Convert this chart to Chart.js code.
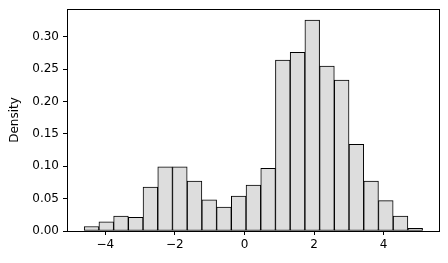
<!DOCTYPE html>
<html>
<head>
<meta charset="utf-8">
<script src="https://cdn.jsdelivr.net/npm/chart.js@4/dist/chart.umd.min.js"></script>
<style>
  html, body { margin: 0; padding: 0; background: #fff; }
  #wrap { width: 448px; height: 263px; }
</style>
</head>
<body>
<div id="wrap"><canvas id="hist"></canvas></div>
<script>
const binEdges = [-4.606, -4.183, -3.760, -3.337, -2.915, -2.492, -2.069, -1.646,
  -1.224, -0.801, -0.378, 0.045, 0.468, 0.890, 1.313, 1.736, 2.159, 2.582,
  3.004, 3.427, 3.850, 4.273, 4.696, 5.118];
const densities = [0.007, 0.014, 0.023, 0.021, 0.068, 0.099, 0.099, 0.077,
  0.048, 0.037, 0.054, 0.071, 0.097, 0.264, 0.276, 0.326, 0.255, 0.233,
  0.134, 0.077, 0.047, 0.023, 0.004];
const xTicks = [-4, -2, 0, 2, 4];
const yTicks = [0, 0.05, 0.1, 0.15, 0.2, 0.25, 0.3];

// one bar per bin, centred between its edges
const bars = densities.map((d, i) => ({ x: (binEdges[i] + binEdges[i + 1]) / 2, y: d }));

const fontSpec = { family: "'DejaVu Sans', sans-serif", size: 12 };

// closed box around the plot area
const frame = {
  id: "frame",
  afterDraw(chart) {
    const { ctx, chartArea: a } = chart;
    ctx.save();
    ctx.strokeStyle = "#000";
    ctx.lineWidth = 1;
    ctx.strokeRect(Math.round(a.left) + 0.5, Math.round(a.top) + 0.5,
      Math.round(a.right - a.left), Math.round(a.bottom - a.top));
    ctx.restore();
  },
};

new Chart(document.getElementById("hist"), {
  type: "bar",
  data: {
    datasets: [
      {
        data: bars,
        backgroundColor: "#dddddd",
        borderColor: "#000000",
        borderWidth: 1,
        borderSkipped: false,
        barPercentage: 1,
        categoryPercentage: 1,
      },
    ],
  },
  plugins: [frame],
  options: {
    responsive: true,
    maintainAspectRatio: false,
    animation: false,
    layout: { padding: { top: 9, right: 9, left: 0, bottom: 0 } },
    plugins: { legend: { display: false }, tooltip: { enabled: false } },
    scales: {
      x: {
        type: "linear",
        offset: false,
        min: -5.1,
        max: 5.59,
        afterBuildTicks: (scale) => { scale.ticks = xTicks.map((v) => ({ value: v })); },
        afterFit: (scale) => { scale.height = 32; scale.paddingLeft = 0; scale.paddingRight = 0; },
        ticks: {
          color: "#000",
          font: fontSpec,
          padding: 3,
          maxRotation: 0,
          callback: (v) => String(v).replace("-", "\u2212"),
        },
        grid: { offset: false, drawOnChartArea: false, drawTicks: true, tickLength: 4, color: "#000" },
        border: { display: true, color: "#000" },
      },
      y: {
        min: 0,
        max: 0.343,
        afterBuildTicks: (scale) => { scale.ticks = yTicks.map((v) => ({ value: v })); },
        afterFit: (scale) => { scale.width = 67; scale.paddingTop = 0; scale.paddingBottom = 0; },
        ticks: {
          color: "#000",
          font: fontSpec,
          padding: 4,
          callback: (v) => v.toFixed(2),
        },
        title: { display: true, text: "Density", color: "#000", font: fontSpec, padding: { top: 8, bottom: 0 } },
        grid: { drawOnChartArea: false, drawTicks: true, tickLength: 4, color: "#000" },
        border: { display: true, color: "#000" },
      },
    },
  },
});
</script>
</body>
</html>
